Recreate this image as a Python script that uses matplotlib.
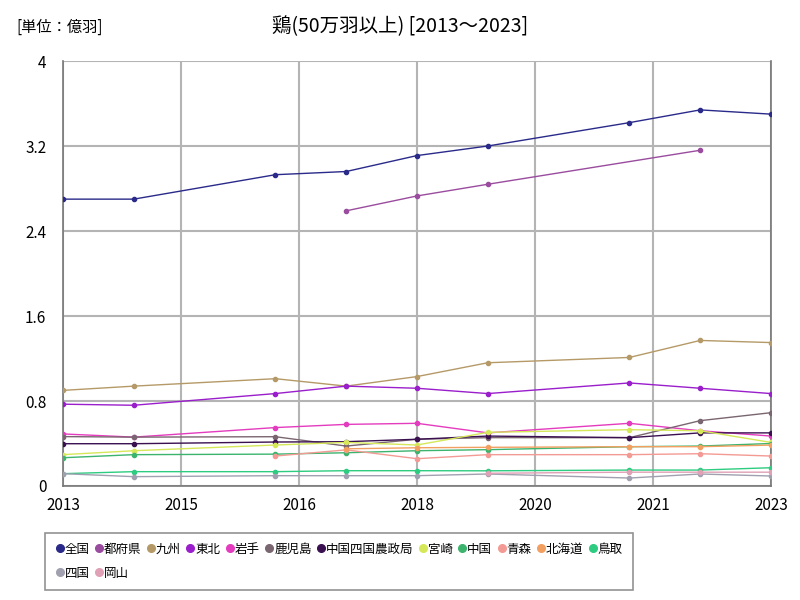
import matplotlib
matplotlib.use("Agg")
import matplotlib.pyplot as plt
from matplotlib.lines import Line2D
import numpy as np

plt.rcParams['font.family'] = ['Noto Sans CJK JP', 'DejaVu Sans']

nan = np.nan
years = [2013, 2014, 2016, 2017, 2018, 2019, 2021, 2022, 2023]

zenkoku = [2.70, 2.70, 2.93, 2.96, 3.11, 3.20, 3.42, 3.54, 3.50]
tofuken = [nan, nan, nan, 2.59, 2.73, 2.84, nan, 3.16, nan]
kyushu = [0.90, 0.94, 1.01, 0.94, 1.03, 1.16, 1.21, 1.37, 1.35]
tohoku = [0.77, 0.76, 0.87, 0.94, 0.92, 0.87, 0.97, 0.92, 0.87]
iwate = [0.49, 0.46, 0.55, 0.58, 0.59, 0.50, 0.59, 0.52, 0.47]
kagoshima = [0.465, 0.46, 0.464, 0.376, 0.44, 0.455, 0.455, 0.615, 0.69]
chushikoku = [0.398, 0.398, 0.414, 0.417, 0.44, 0.47, 0.455, 0.50, 0.50]
miyazaki = [0.295, 0.332, 0.386, 0.41, 0.386, 0.505, 0.53, 0.52, 0.41]
chugoku = [0.266, 0.295, 0.30, 0.313, 0.332, 0.342, 0.37, 0.376, 0.40]
aomori = [nan, nan, 0.282, 0.34, 0.257, 0.295, 0.295, 0.304, 0.282]
hokkaido = [nan, nan, nan, 0.35, 0.36, 0.364, 0.37, 0.37, 0.385]
tottori = [0.116, 0.135, 0.135, 0.144, 0.144, 0.143, 0.15, 0.15, 0.172]
shikoku = [0.116, 0.088, 0.097, 0.097, 0.097, 0.113, 0.075, 0.113, 0.094]
okayama = [nan, nan, nan, nan, nan, 0.12, 0.13, 0.13, 0.13]

series = [
    ("全国", zenkoku, "#2a2a8a"),
    ("都府県", tofuken, "#9a4c9e"),
    ("九州", kyushu, "#b59a68"),
    ("東北", tohoku, "#9a1ecb"),
    ("岩手", iwate, "#e43cbe"),
    ("鹿児島", kagoshima, "#7a6670"),
    ("中国四国農政局", chushikoku, "#3a1050"),
    ("宮崎", miyazaki, "#d6e85a"),
    ("中国", chugoku, "#3cb46e"),
    ("青森", aomori, "#f49a94"),
    ("北海道", hokkaido, "#f2a062"),
    ("鳥取", tottori, "#2ecc80"),
    ("四国", shikoku, "#a0a0b0"),
    ("岡山", okayama, "#e0a0b6"),
]

fig = plt.figure(figsize=(8, 6), dpi=100)
ax = fig.add_axes([0.07875, 0.19, 0.885, 0.7083])

x = np.array(years, dtype=float)
handles = []
for name, vals, color in series:
    v = np.array(vals, dtype=float)
    m = ~np.isnan(v)
    ax.plot(x[m], v[m], color=color, lw=1.0, marker="o", ms=3, zorder=3)
    handles.append(Line2D([], [], color=color, marker="o", ls="", ms=5.5, label=name))

ax.set_xlim(2013, 2023)
ax.set_ylim(0, 4)
xt = np.linspace(2013, 2023, 7)
ax.set_xticks(xt)
ax.set_xticklabels([str(int(round(t))) for t in xt], fontsize=11)
ax.set_yticks([0, 0.8, 1.6, 2.4, 3.2, 4])
ax.set_yticklabels(["0", "0.8", "1.6", "2.4", "3.2", "4"], fontsize=11)
ax.tick_params(axis="y", length=0, pad=12)
ax.tick_params(axis="x", length=0, pad=8)
ax.grid(True, color="#b4b4b4", lw=1.5, zorder=0)
for s in ax.spines.values():
    s.set_color("#777777")
    s.set_linewidth(1.2)
ax.spines["top"].set_visible(False)

fig.text(0.5, 0.955, "鶏(50万羽以上) [2013～2023]", ha="center", va="center", fontsize=14)
fig.text(0.02, 0.955, "[単位：億羽]", ha="left", va="center", fontsize=11)

# row-major order for a 2-row legend
order = [0, 12, 1, 13] + list(range(2, 12))
leg = fig.legend([handles[i] for i in order], [series[i][0] for i in order],
                 loc="lower left", bbox_to_anchor=(0.056, 0.017), ncol=12,
                 fontsize=9, handletextpad=0.0, columnspacing=0.35,
                 handlelength=0.8, borderpad=0.8, fancybox=False,
                 frameon=True, labelspacing=0.9, borderaxespad=0)
leg.get_frame().set_edgecolor("#777777")
leg.get_frame().set_linewidth(1.2)

fig.savefig("out.png", dpi=100)
